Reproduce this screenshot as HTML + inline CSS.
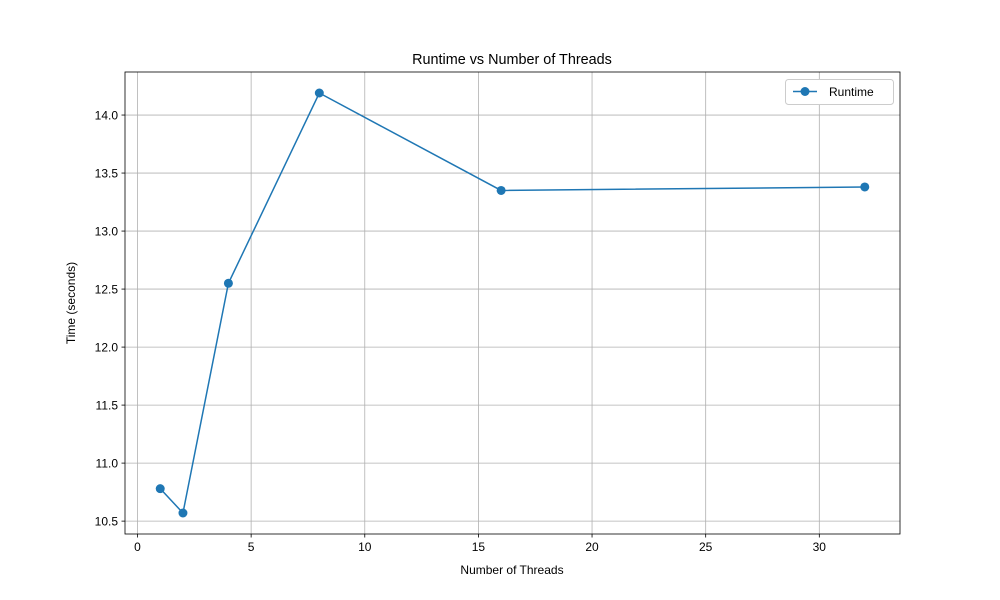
<!DOCTYPE html>
<html><head><meta charset="utf-8"><style>
body{margin:0;background:#fff;}
svg{display:block;font-family:"Liberation Sans","DejaVu Sans",sans-serif;}
</style></head><body>
<svg id="chart" width="1000" height="600">
<rect width="1000" height="600" fill="#fff"/>
</svg>
<script>
const threads=[1,2,4,8,16,32];
const runtimes=[10.78,10.57,12.55,14.19,13.35,13.38];
const xTicks=[0,5,10,15,20,25,30];
const yTicks=[10.5,11.0,11.5,12.0,12.5,13.0,13.5,14.0];
const L=125,R=900,T=72,B=534;
const xmin=-0.55,xmax=33.55,ymin=10.389,ymax=14.371;
const sx=v=>L+(v-xmin)/(xmax-xmin)*(R-L);
const sy=v=>B-(v-ymin)/(ymax-ymin)*(B-T);
const svg=document.getElementById('chart');
const NS='http://www.w3.org/2000/svg';
function mk(tag,attrs,parent){const e=document.createElementNS(NS,tag);for(const k in attrs)e.setAttribute(k,attrs[k]);(parent||svg).appendChild(e);return e;}
const grid=mk('g',{});


xTicks.forEach(t=>{const x=sx(t);
mk('line',{x1:x,x2:x,y1:T,y2:B,stroke:'#b0b0b0','stroke-width':0.8},grid);
mk('line',{x1:x,x2:x,y1:B,y2:B+3.5,stroke:'#000','stroke-width':0.8});
const tx=mk('text',{x:x,y:B+17,'font-size':12,'text-anchor':'middle'});tx.textContent=t;

});
yTicks.forEach(t=>{const y=sy(t);
mk('line',{x1:L,x2:R,y1:y,y2:y,stroke:'#b0b0b0','stroke-width':0.8},grid);
mk('line',{x1:L-3.5,x2:L,y1:y,y2:y,stroke:'#000','stroke-width':0.8});
const tx=mk('text',{x:L-7,y:y+4.5,'font-size':12,'text-anchor':'end'});tx.textContent=t.toFixed(1);

});
const ln=mk('polyline',{points:threads.map((t,i)=>sx(t)+','+sy(runtimes[i])).join(' '),fill:'none',stroke:'#1f77b4','stroke-width':1.5});


threads.forEach((t,i)=>{const c=mk('circle',{cx:sx(t),cy:sy(runtimes[i]),r:4.5,fill:'#1f77b4'});

});
const fr=mk('rect',{x:L,y:T,width:R-L,height:B-T,fill:'none',stroke:'#000','stroke-width':0.8});


</script>
<svg width="1000" height="600" style="position:absolute;left:0;top:0;pointer-events:none">
<text x="512" y="64" font-size="14.4" text-anchor="middle" font-family="Liberation Sans, sans-serif">Runtime vs Number of Threads</text>
<text x="512" y="574" font-size="12" text-anchor="middle" font-family="Liberation Sans, sans-serif">Number of Threads</text>
<text transform="translate(75,303) rotate(-90)" font-size="12" text-anchor="middle" font-family="Liberation Sans, sans-serif">Time (seconds)</text>
<g>
<rect x="785.5" y="79.5" width="108" height="25" rx="3" fill="#fff" stroke="#ccc"/>
<line x1="793" x2="817" y1="91.5" y2="91.5" stroke="#1f77b4" stroke-width="1.5"/>
<circle cx="805" cy="91.5" r="4.5" fill="#1f77b4"/>
<text x="829" y="96" font-size="12" font-family="Liberation Sans, sans-serif">Runtime</text>
</g>
</svg>
</body></html>
